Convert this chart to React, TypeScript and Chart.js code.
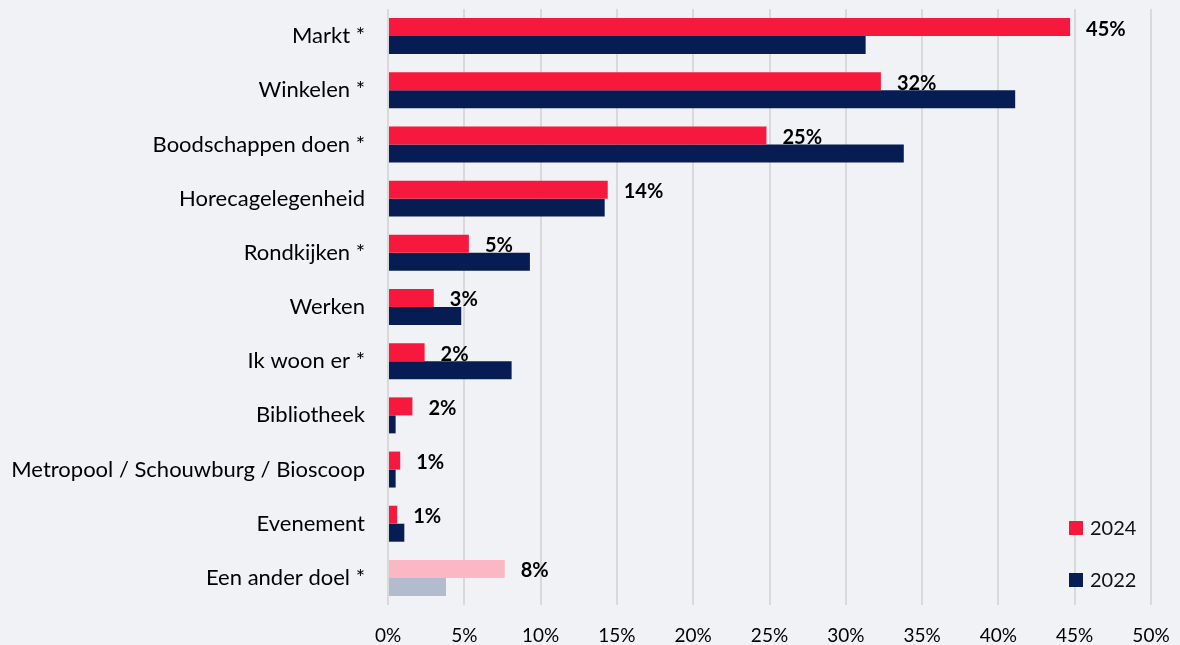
import React, { useEffect, useRef } from "react";
import { Chart, registerables } from "chart.js";

Chart.register(...registerables);

const categories = [
  "Markt *",
  "Winkelen *",
  "Boodschappen doen *",
  "Horecagelegenheid",
  "Rondkijken *",
  "Werken",
  "Ik woon er *",
  "Bibliotheek",
  "Metropool / Schouwburg / Bioscoop",
  "Evenement",
  "Een ander doel *",
];
const values2024 = [44.7, 32.3, 24.8, 14.4, 5.3, 3.0, 2.4, 1.6, 0.8, 0.6, 7.65];
const values2022 = [31.3, 41.1, 33.8, 14.2, 9.3, 4.8, 8.1, 0.5, 0.5, 1.07, 3.8];
const labels2024 = ["45%", "32%", "25%", "14%", "5%", "3%", "2%", "2%", "1%", "1%", "8%"];
const xTicks = [0, 5, 10, 15, 20, 25, 30, 35, 40, 45, 50];
const seriesNames = ["2024", "2022"];

const RED = "#f7193d";
const PINK = "#fbb7c3";
const NAVY = "#061c52";
const GREYBLUE = "#b3bbcf";
const BG = "#f1f2f6";
const FONT = "Lato, 'Noto Sans', sans-serif";

export default function App() {
  const ref = useRef<HTMLCanvasElement | null>(null);

  useEffect(() => {
    document.body.style.margin = "0";
    const lastIdx = categories.length - 1;

    const labelPlugin = {
      id: "barLabels",
      afterDatasetsDraw(chart: any) {
        const ctx = chart.ctx;
        const meta = chart.getDatasetMeta(0);
        ctx.save();
        ctx.font = `bold 20px ${FONT}`;
        ctx.fillStyle = "#000";
        ctx.textAlign = "left";
        ctx.textBaseline = "middle";
        meta.data.forEach((bar: any, i: number) => {
          ctx.fillText(labels2024[i], bar.x + 16, bar.y + 2);
        });
        ctx.restore();
      },
    };

    const legendPlugin = {
      id: "customLegend",
      afterDraw(chart: any) {
        const ctx = chart.ctx;
        const { right, bottom } = chart.chartArea;
        const colors = [RED, NAVY];
        const offsets = [77, 25];
        ctx.save();
        ctx.font = `20px ${FONT}`;
        ctx.textAlign = "left";
        ctx.textBaseline = "middle";
        seriesNames.forEach((name, i) => {
          const cy = bottom - offsets[i];
          ctx.fillStyle = colors[i];
          ctx.fillRect(right - 82, cy - 7, 14, 14);
          ctx.fillStyle = "#111";
          ctx.fillText(name, right - 61, cy + 1);
        });
        ctx.restore();
      },
    };

    const chart = new Chart(ref.current!, {
      type: "bar",
      data: {
        labels: categories,
        datasets: [
          {
            label: seriesNames[0],
            data: values2024,
            backgroundColor: (c: any) => (c.dataIndex === lastIdx ? PINK : RED),
            barPercentage: 1,
            categoryPercentage: 0.664,
          },
          {
            label: seriesNames[1],
            data: values2022,
            backgroundColor: (c: any) => (c.dataIndex === lastIdx ? GREYBLUE : NAVY),
            barPercentage: 1,
            categoryPercentage: 0.664,
          },
        ],
      },
      options: {
        indexAxis: "y",
        animation: false,
        responsive: false,
        maintainAspectRatio: false,
        layout: { padding: { top: 9, right: 29, left: 0, bottom: 0 } },
        plugins: {
          legend: { display: false },
          tooltip: { enabled: false },
        },
        scales: {
          x: {
            min: 0,
            max: 50,
            afterFit: (s: any) => {
              s.height = 40;
              s.paddingLeft = 0;
              s.paddingRight = 0;
            },
            afterBuildTicks: (s: any) => {
              s.ticks = xTicks.map((v) => ({ value: v }));
            },
            grid: { color: "#d9d9d9", lineWidth: 2, drawTicks: false },
            border: { display: false },
            ticks: {
              padding: 19,
              color: "#000",
              font: { family: FONT, size: 19 },
              callback: (v: any) => `${v}%`,
            },
          },
          y: {
            afterFit: (s: any) => {
              s.width = 388;
              s.paddingTop = 0;
              s.paddingBottom = 0;
            },
            grid: { display: false, drawTicks: false },
            border: { display: false },
            ticks: {
              padding: 23,
              color: "#000",
              font: { family: FONT, size: 22 },
            },
          },
        },
      },
      plugins: [labelPlugin, legendPlugin],
    });
    return () => chart.destroy();
  }, []);

  return (
    <div style={{ position: "absolute", left: 0, top: 0, width: 1180, height: 645, background: BG }}>
      <canvas ref={ref} width={1180} height={645} style={{ width: 1180, height: 645 }} />
    </div>
  );
}
